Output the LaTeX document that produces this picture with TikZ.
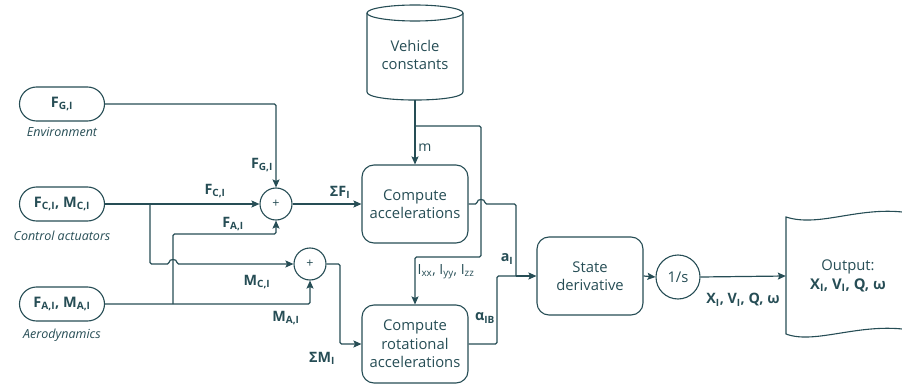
\documentclass[tikz,border=0pt]{standalone}
\usepackage{fontspec}
\setmainfont{Open Sans}
\usetikzlibrary{arrows.meta,calc}
\definecolor{ink}{HTML}{264D55}
\begin{document}
\begin{tikzpicture}[x=1pt,y=-1pt,
  every node/.style={text=ink},
  wire/.style={draw=ink, line width=1.2pt, rounded corners=1.5pt},
  arr/.style={wire, -{Stealth[length=8pt,width=7pt,inset=1.5pt]}},
  outline/.style={draw=ink, line width=1.1pt},
  pill/.style={outline, rounded corners=17pt, minimum width=85pt, minimum height=34pt,
    inner sep=0pt, font=\bfseries\fontsize{14.5}{17}\selectfont},
  note/.style={font=\itshape\fontsize{12.5}{15}\selectfont},
  sumnode/.style={outline, circle, minimum size=32pt, inner sep=0pt,
    font=\fontsize{12.5}{14}\selectfont},
  blk/.style={outline, rounded corners=12pt, minimum width=106pt, minimum height=78pt,
    align=center, inner sep=0pt, font=\fontsize{14.8}{18.3}\selectfont},
  body/.style={align=center, inner sep=0pt, font=\fontsize{14.8}{18.3}\selectfont},
  sig/.style={inner sep=0pt, font=\bfseries\fontsize{14.3}{16}\selectfont},
  plain/.style={inner sep=0pt, font=\fontsize{14}{16}\selectfont},
]
\useasboundingbox (0,0) rectangle (902,385);

% sources
\node[pill] (envp) at (62,104) {F\textsubscript{G,I}};
\node[note] (envt) at (62,132) {Environment};
\node[pill] (ctlp) at (62,204) {F\textsubscript{C,I}, M\textsubscript{C,I}};
\node[note] (ctlt) at (62,236) {Control actuators};
\node[pill] (aerop) at (62,304) {F\textsubscript{A,I}, M\textsubscript{A,I}};
\node[note] (aerot) at (62,335) {Aerodynamics};

% summing junctions
\node[sumnode] (s1) at (276,204) {+};
\node[sumnode] (s2) at (310,264) {+};

% processing blocks
\node[blk] (acc) at (415,204) {Compute\\accelerations};
\node[blk] (rot) at (415,344) {Compute\\rotational\\accelerations};
\node[blk] (sd) at (590,276) {State\\derivative};
\node[sumnode, minimum size=44pt, font=\fontsize{14.8}{18}\selectfont] (integ) at (678,277) {1/s};

% vehicle constants store
\draw[outline] (415,13) ellipse [x radius=48pt, y radius=8pt];
\draw[outline] (367,13) -- (367,92) .. controls (367,102.7) and (463,102.7) .. (463,92) -- (463,13);
\node[body] (vc) at (415,55) {Vehicle\\constants};
\coordinate (vcb) at (415,100);

% output document
\draw[outline] (910,213) .. controls (860,205) and (820,228) .. (786,217)
  -- (786,334) .. controls (815,345) and (860,322) .. (910,330);
\node[body, minimum width=124pt, minimum height=118pt] (out) at (848,276)
  {Output:\\\textbf{X\textsubscript{I}, V\textsubscript{I}, Q, ω}};

% force and moment paths
\draw[arr] (envp.east) -| (s1.north);
\draw[arr] (ctlp.east) -- (s1.west);
\coordinate (cb) at (150,204);
\draw[arr] (cb) -- (150,264) -- (169,264)
  .. controls (169,258.5) and (177,258.5) .. (177,264) -- (s2.west);
\draw[arr] (aerop.east) -| (s2.south);
\coordinate (ab) at (173,304);
\draw[arr] (ab) -- (173,234) -| (s1.south);
\draw[arr] (s1.east) -- (acc.west);
\draw[arr] (s2.east) -- (340,264) |- (rot.west);

% constants
\draw[arr] (vcb) -- (acc.north);
\coordinate (jm) at (415,126);
\draw[arr] (jm) -| (481,257) -| (rot.north);

% accelerations to state derivative
\coordinate (aj) at (516,276);
\draw[wire] (acc.east) -- (477,204)
  .. controls (477,198.5) and (485,198.5) .. (485,204) -- (516,204) -- (aj);
\draw[wire] (rot.east) -| (497,276) -- (aj);
\draw[arr] (aj) -- (sd.west);
\draw[arr] (sd.east) -- (integ.west);
\draw[arr] (integ.east) -- (out.west);

% signal labels
\node[sig] (lfg) at (262,165) {F\textsubscript{G,I}};
\node[sig] (lfc) at (215,191) {F\textsubscript{C,I}};
\node[sig] (lfa) at (233,224) {F\textsubscript{A,I}};
\node[sig] (lmc) at (257,282) {M\textsubscript{C,I}};
\node[sig] (lma) at (286,318) {M\textsubscript{A,I}};
\node[sig] (lsf) at (340,192) {ΣF\textsubscript{I}};
\node[sig] (lsm) at (322,358) {ΣM\textsubscript{I}};
\node[plain] (lm) at (425,148) {m};
\node[plain] (lin) at (446,272) {I\textsubscript{xx}, I\textsubscript{yy}, I\textsubscript{zz}};
\node[sig] (la) at (507,259) {a\textsubscript{I}};
\node[sig] (lal) at (485,318) {α\textsubscript{IB}};
\node[sig] (lx) at (743,300) {X\textsubscript{I}, V\textsubscript{I}, Q, ω};
\end{tikzpicture}
\end{document}
